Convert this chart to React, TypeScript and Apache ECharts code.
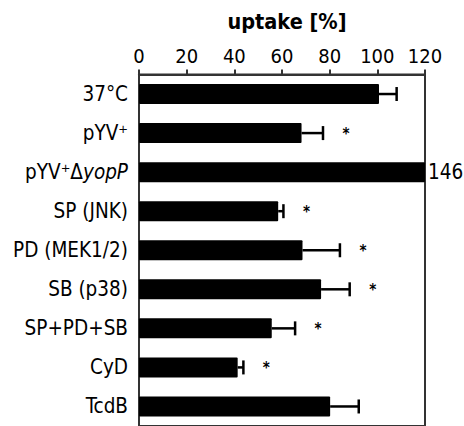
import React, { useEffect, useRef } from "react";
import * as echarts from "echarts";

const categories = ["37°C", "pYV⁺", "pYV⁺ΔyopP", "SP (JNK)", "PD (MEK1/2)", "SB (p38)", "SP+PD+SB", "CyD", "TcdB"];
const uptake = [100.7, 68.2, 146, 58.4, 68.6, 76.4, 55.7, 41.4, 80.2];
const errors = [7.4, 9, 0, 2.2, 15.7, 12, 9.8, 2.4, 12];
const significant = [false, true, false, true, true, true, true, true, false];
const xTicks = { min: 0, max: 120, interval: 20 };
const title = "uptake [%]";

const FONT = "'DejaVu Sans Condensed', 'DejaVu Sans', sans-serif";

export default function App() {
  const ref = useRef<HTMLDivElement>(null);
  useEffect(() => {
    if (!ref.current) return;
    const chart = echarts.init(ref.current, null, { renderer: "svg" });
    const barData = uptake.map((v) =>
      v > xTicks.max
        ? {
            value: xTicks.max,
            label: {
              show: true,
              position: "right",
              distance: 3,
              formatter: String(v),
              color: "#000",
              fontSize: 20.5,
              fontFamily: FONT,
            },
          }
        : v
    );
    const errData = uptake.map((v, i) => [i, v, errors[i], significant[i] ? 1 : 0]);
    chart.setOption({
      animation: false,
      title: {
        text: title,
        left: 282,
        top: 5,
        textAlign: "center",
        textStyle: { fontFamily: FONT, fontSize: 21.5, fontWeight: "bold", color: "#000" },
      },
      grid: {
        left: 139,
        top: 74.5,
        width: 286,
        height: 353.3,
        show: true,
        borderColor: "#333",
        borderWidth: 2,
        backgroundColor: "transparent",
      },
      xAxis: {
        type: "value",
        position: "top",
        min: xTicks.min,
        max: xTicks.max,
        interval: xTicks.interval,
        splitLine: { show: false },
        axisLine: { show: true, lineStyle: { color: "#333", width: 2 } },
        axisTick: { show: true, length: 5, lineStyle: { color: "#333", width: 2 } },
        axisLabel: { margin: 9, color: "#000", fontSize: 20, fontFamily: FONT },
      },
      yAxis: {
        type: "category",
        data: categories,
        inverse: true,
        axisLine: { show: true, lineStyle: { color: "#333", width: 2 } },
        axisTick: { show: false },
        axisLabel: {
          margin: 11,
          color: "#000",
          fontSize: 20.5,
          fontFamily: FONT,
          formatter: (val: string) => {
            const m = val.match(/^(.*Δ)(.*)$/);
            if (m) return `{n|${m[1]}}{i|${m[2]}}`;
            return `{n|${val}}`;
          },
          rich: {
            n: { fontSize: 20.5, fontFamily: FONT, color: "#000" },
            i: { fontSize: 20.5, fontFamily: FONT, color: "#000", fontStyle: "italic" },
          },
        },
      },
      series: [
        {
          type: "bar",
          data: barData,
          barWidth: 20,
          itemStyle: { color: "#000", borderRadius: 1 },
          label: { show: false },
          z: 2,
        },
        {
          type: "custom",
          data: errData,
          encode: { x: 1, y: 0 },
          clip: false,
          z: 3,
          renderItem: (params: any, api: any) => {
            const idx = api.value(0);
            const v = api.value(1);
            const e = api.value(2);
            const sig = api.value(3);
            const start = api.coord([v, idx]);
            const end = api.coord([v + e, idx]);
            const children: any[] = [];
            const cy = start[1];
            if (e > 0) {
              children.push({
                type: "line",
                shape: { x1: start[0], y1: cy, x2: end[0], y2: cy },
                style: { stroke: "#000", lineWidth: 2.5 },
              });
              children.push({
                type: "line",
                shape: { x1: end[0], y1: cy - 7, x2: end[0], y2: cy + 7 },
                style: { stroke: "#000", lineWidth: 2.5 },
              });
            }
            if (sig) {
              children.push({
                type: "text",
                x: end[0] + 23,
                y: cy + 1,
                style: {
                  text: "*",
                  fontSize: 15,
                  fontWeight: "bold",
                  fontFamily: FONT,
                  fill: "#000",
                  align: "center",
                  verticalAlign: "middle",
                },
              });
            }
            return { type: "group", children };
          },
        },
      ],
    });
    return () => chart.dispose();
  }, []);
  return <div ref={ref} style={{ position: "absolute", left: 0, top: 0, width: 464, height: 426 }} />;
}
